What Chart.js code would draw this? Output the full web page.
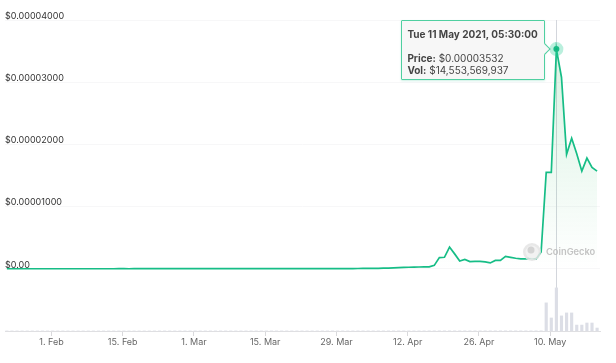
<!DOCTYPE html>
<html>
<head>
<meta charset="utf-8">
<style>
html,body{margin:0;padding:0;background:#fff;width:616px;height:363px;overflow:hidden}
#wrap{position:relative;width:616px;height:363px}
#tip{position:absolute;box-sizing:border-box;width:144px;height:60px;background:#f7f7f7;border:1px solid #4fcfa0;box-shadow:0 1px 2px rgba(60,200,150,.25);font:10px/12px Inter,sans-serif;color:#444;padding:7px 0 0 5px;white-space:nowrap;border-radius:1px}
#tip b{font-weight:700}
#tip .t{margin-bottom:12px;font-weight:700;font-size:10px}
#caret{position:absolute;width:7px;height:7px;background:#f7f7f7;border-top:1px solid #4fcfa0;border-right:1px solid #4fcfa0;transform:rotate(45deg)}
</style>
</head>
<body>
<div id="wrap"><canvas id="c" width="616" height="363"></canvas><div id="tip"></div><div id="caret"></div></div>
<script src="https://cdn.jsdelivr.net/npm/chart.js@4"></script>
<script>
const firstDay = -9;              // days relative to 1 Feb
const hourOfDay = 0.229;          // samples are taken at 05:30
const tickDays = [0,14,28,42,56,70,84,98];
const tickLabels = ["1. Feb","15. Feb","1. Mar","15. Mar","29. Mar","12. Apr","26. Apr","10. May"];
const priceTicks = [-0.00001,0,0.00001,0.00002,0.00003,0.00004];

const prices = [
0.000000008,0.000000008,0.000000008,0.000000009,0.000000009,0.000000010,0.000000010,0.000000009,0.000000009,0.000000010,
0.000000010,0.000000011,0.000000010,0.000000010,0.000000011,0.000000012,0.000000011,0.000000011,0.000000012,0.000000012,0.000000011,
0.000000012,0.000000013,0.000000013,0.000000012,0.000000014,0.000000015,0.000000014,0.000000014,0.000000015,0.000000016,
0.000000015,0.000000015,0.000000017,0.000000018,0.000000017,0.000000018,0.000000020,0.000000022,0.000000025,0.000000028,
0.000000030,0.000000034,0.000000036,0.000000035,0.000000033,0.000000034,0.000000032,0.000000030,0.000000029,0.000000028,
0.000000027,0.000000026,0.000000026,0.000000028,0.000000027,0.000000026,0.000000027,0.000000029,0.000000030,0.000000028,
0.000000028,0.000000030,0.000000032,0.000000034,0.000000035,0.000000036,0.000000038,0.000000040,0.000000048,0.000000055,
0.000000065,0.000000070,0.000000080,0.000000100,0.000000120,0.000000150,0.000000190,0.000000220,0.000000250,0.000000280,
0.000000290,0.000000300,0.000000320,
0.00000055,0.0000018,0.00000185,0.0000035,0.0000024,0.00000125,0.0000015,0.00000115,0.0000012,0.0000012,
0.0000011,0.00000095,0.00000135,0.00000135,0.0000020,0.00000185,0.0000017,0.0000016,0.0000016,0.0000017,
0.00000155,0.0000027,0.0000155,0.0000155,0.00003532,0.0000308,0.0000184,0.0000210,0.0000185,0.0000157,
0.0000178,0.0000163,0.0000157];

const volumes = [
2e7,2e7,2e7,2e7,2e7,2e7,2e7,2e7,2e7,2e7,2e7,2e7,2e7,2e7,2e7,2e7,2e7,2e7,2e7,2e7,
2e7,2e7,2e7,2e7,2e7,2e7,2e7,2e7,2e7,2e7,3e7,3e7,3e7,3e7,3e7,3e7,3e7,3e7,3e7,3e7,
3e7,3e7,3e7,3e7,3e7,3e7,3e7,3e7,3e7,3e7,3e7,3e7,3e7,3e7,3e7,3e7,3e7,3e7,3e7,3e7,
3e7,3e7,3e7,3e7,3e7,3e7,3e7,3e7,3e7,4e7,4e7,4e7,4e7,4e7,4e7,4e7,4e7,4e7,4e7,4e7,
4e7,4e7,4e7,5e7,5e7,5e7,5e7,5e7,5e7,5e7,5e7,5e7,5e7,5e7,5e7,5e7,5e7,5e7,5e7,5e7,
5e7,5e7,5e7,5e7,5e7,6e7,9.5e9,4.4e9,14553569937,5.1e9,6.1e9,6.1e9,2.0e9,2.0e9,2.7e9,2.7e9,1.0e9];

const peakIndex = prices.indexOf(0.00003532);
const tooltipTitle = "Tue 11 May 2021, 05:30:00";
const tooltipPrice = "$0.00003532";
const tooltipVol = "$14,553,569,937";

const lineColor = "#16bd86";
const xs = prices.map((_, i) => firstDay + i + hourOfDay);
const pricePts = prices.map((v, i) => ({x: xs[i], y: v}));
const volPts = volumes.slice(-prices.length).map((v, i) => ({x: xs[prices.length - Math.min(volumes.length, prices.length) + i], y: v}));

function externalTip(ctx){
  const tt = ctx.tooltip, tip = document.getElementById('tip'), caret = document.getElementById('caret');
  if(!tt || tt.opacity === 0) return;
  tip.innerHTML = '<div class="t">'+tooltipTitle+'</div><div><b>Price:</b> '+tooltipPrice+'</div><div><b>Vol:</b> '+tooltipVol+'</div>';
  const cx = tt.caretX, cy = tt.caretY;
  tip.style.left = (cx - 155) + 'px';
  tip.style.top = (cy - 29) + 'px';
  caret.style.left = (cx - 15) + 'px';
  caret.style.top = (cy - 4) + 'px';
}

const overlay = {
  id:'overlay',
  beforeDatasetsDraw(chart){
    const x = chart.scales.x.getPixelForValue(xs[peakIndex]), a = chart.chartArea, g = chart.ctx;
    g.save(); g.strokeStyle='#d3d6dc'; g.lineWidth=1;
    g.beginPath(); g.moveTo(Math.round(x)+.5,a.top); g.lineTo(Math.round(x)+.5,a.bottom); g.stroke(); g.restore();
  },
  afterDatasetsDraw(chart){
    const g = chart.ctx;
    g.save();
    g.globalAlpha=.85;
    g.fillStyle='#e4e4e4'; g.beginPath(); g.arc(532,252,9,0,7); g.fill();
    g.fillStyle='#f4f4f4'; g.beginPath(); g.arc(532,252,6.5,0,7); g.fill();
    g.fillStyle='#cfcfcf'; g.beginPath(); g.arc(531,250,3.5,0,7); g.fill();
    g.fillStyle='#b8b8b8'; g.font='600 9.3px Inter, sans-serif'; g.textBaseline='middle'; g.textAlign='left';
    g.fillText('CoinGecko',546,252.5);
    g.restore();
  }
};

const chart = new Chart(document.getElementById('c'),{
  data:{datasets:[
    {type:'line',data:pricePts,yAxisID:'y',order:1,borderColor:lineColor,borderWidth:1.7,tension:0,
     pointRadius:ctx=>ctx.dataIndex===peakIndex?3:0,
     pointHoverRadius:ctx=>ctx.dataIndex===peakIndex?3:0,
     pointBackgroundColor:'#0fb27c',pointHoverBackgroundColor:'#0fb27c',
     pointBorderColor:'rgba(40,205,150,.32)',pointHoverBorderColor:'rgba(40,205,150,.32)',
     pointBorderWidth:8,pointHoverBorderWidth:8,
     fill:{target:{value:0}},
     backgroundColor(ctx){
       const a = ctx.chart.chartArea; if(!a) return 'transparent';
       const s = ctx.chart.scales.y;
       const gr = ctx.chart.ctx.createLinearGradient(0,s.getPixelForValue(0.00004),0,s.getPixelForValue(0));
       gr.addColorStop(0,'rgba(60,190,110,.22)');
       gr.addColorStop(1,'rgba(60,190,110,0)');
       return gr;
     }},
    {type:'bar',data:volPts,yAxisID:'v',order:2,backgroundColor:'#dcdee6',barThickness:2.5,borderWidth:0}
  ]},
  options:{
    responsive:false,animation:false,events:[],
    layout:{padding:{left:5,right:16,top:20,bottom:0}},
    plugins:{legend:{display:false},title:{display:false},
      tooltip:{enabled:false,external:externalTip,mode:'nearest',intersect:false,filter:i=>i.datasetIndex===0}},
    scales:{
      x:{type:'linear',offset:false,min:-9.14,max:107.8,
        afterBuildTicks(s){s.ticks=tickDays.map(v=>({value:v}));},
        afterFit(s){s.height=32;},
        border:{display:true,color:'#dfdfe2'},
        grid:{offset:false,drawOnChartArea:false,drawTicks:true,tickLength:5,tickColor:'#d9d9dc'},
        ticks:{autoSkip:false,maxRotation:0,padding:1,color:'#666',font:{family:'Inter, sans-serif',size:9},
          callback(v){const i=tickDays.indexOf(v);return i<0?'':tickLabels[i];}}
      },
      y:{type:'linear',position:'left',min:-0.00001,max:0.00004,
        afterBuildTicks(s){s.ticks=priceTicks.map(v=>({value:v}));},
        afterFit(s){s.width=0;},
        border:{display:false},
        grid:{drawTicks:false,color:c=>c.tick&&c.tick.value<0?'transparent':'#f7f7f8'},
        ticks:{mirror:true,padding:0,labelOffset:-4,color:'#333',font:{family:'Inter, sans-serif',size:9},
          callback(v){return v<0?'':(v===0?'$0.00':'$'+v.toFixed(8));}}
      },
      v:{type:'linear',display:false,min:0,max:1.05e11}
    }
  },
  plugins:[overlay]
});
const active=[{datasetIndex:0,index:peakIndex}];
const el=chart.getDatasetMeta(0).data[peakIndex];
chart.setActiveElements(active);
chart.tooltip.setActiveElements(active,{x:el.x,y:el.y});
chart.update('none');
</script>
</body>
</html>
